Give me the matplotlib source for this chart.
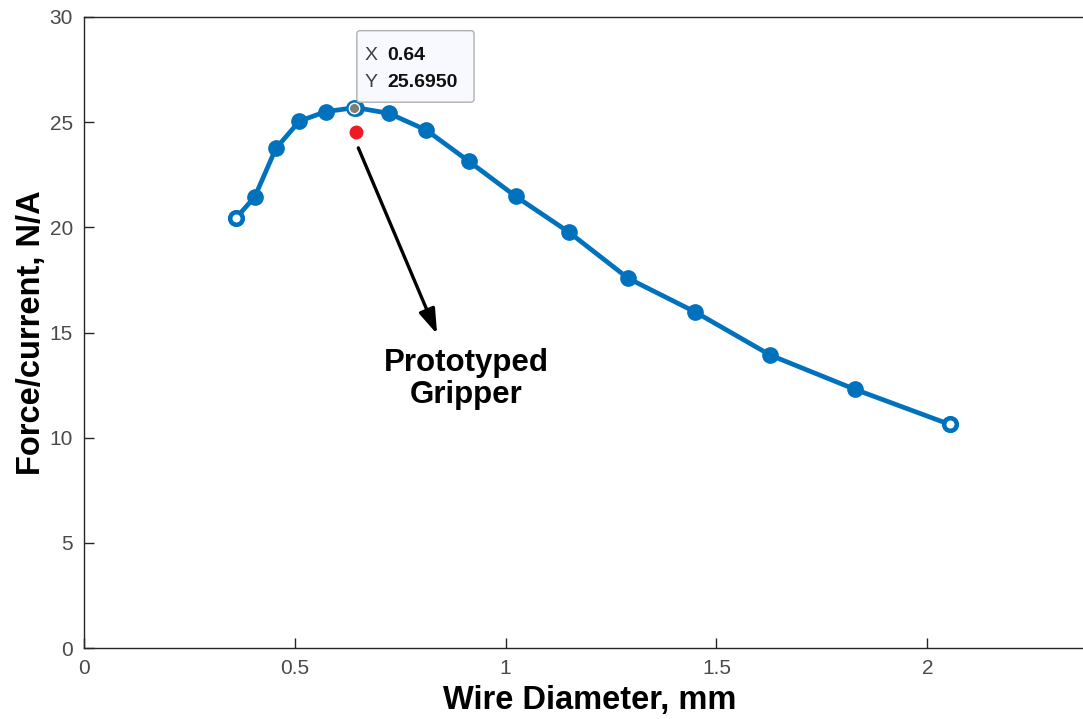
import numpy as np
import matplotlib.pyplot as plt
from matplotlib.patches import FancyBboxPatch

plt.rcParams['font.family'] = ['Liberation Sans', 'DejaVu Sans']

# wire diameters (AWG 27 .. 12) and force per unit current
diameter = [0.361, 0.405, 0.455, 0.511, 0.573, 0.644, 0.723, 0.812,
            0.912, 1.024, 1.150, 1.291, 1.450, 1.628, 1.828, 2.053]
force = [20.45, 21.45, 23.75, 25.05, 25.5, 25.695, 25.42, 24.62,
         23.15, 21.47, 19.77, 17.57, 15.97, 13.92, 12.3, 10.63]

# prototyped gripper point
proto_x = 0.644
proto_y = 24.55

# selected data point shown in the tip
tip_x = 0.64
tip_y = 25.6950

blue = '#0072BD'

fig = plt.figure(figsize=(10.83, 7.19), dpi=100)
ax = fig.add_axes([84 / 1083, 71 / 719, 1012 / 1083, 631 / 719])

ax.plot(diameter, force, color=blue, lw=3.4, marker='o', ms=11,
        mfc=blue, mec=blue, zorder=3)
# open markers at both ends
ax.plot([diameter[0], diameter[-1]], [force[0], force[-1]], ls='none',
        marker='o', ms=9, mfc='white', mec=blue, mew=3.2, zorder=4)
# highlighted point
ax.plot([tip_x], [tip_y], ls='none', marker='o', ms=10, mfc='#7f7f70',
        mec=blue, mew=2.0, zorder=5)
ax.plot([tip_x], [tip_y], ls='none', marker='o', ms=7.5, mfc='none',
        mec='white', mew=1.0, zorder=6)

ax.plot([proto_x], [proto_y], ls='none', marker='o', ms=9,
        color='#ED1C24', zorder=4)

ax.annotate('', xy=(0.840, 14.8), xytext=(0.648, 23.9),
            arrowprops=dict(arrowstyle='-|>,head_length=1.5,head_width=0.5',
                            color='black', lw=2.4))
ax.text(0.906, 12.8, 'Prototyped\nGripper', ha='center', va='center',
        fontsize=22.5, fontweight='bold', linespacing=1.1)

# data tip box
box = FancyBboxPatch((0.647, 25.95), 0.278, 3.4,
                     boxstyle='round,pad=0,rounding_size=0.008',
                     fc='#f8f8ff', ec='#b0b0b0', lw=1.0, zorder=7,
                     mutation_aspect=20)
ax.add_patch(box)
ax.text(0.665, 28.15, 'X', fontsize=14, color='#404040', va='center', zorder=8)
ax.text(0.719, 28.15, '0.64', fontsize=14, fontweight='bold', color='#111111',
        va='center', zorder=8)
ax.text(0.665, 26.87, 'Y', fontsize=14, color='#404040', va='center', zorder=8)
ax.text(0.719, 26.87, f'{tip_y:.4f}', fontsize=14, fontweight='bold',
        color='#111111', va='center', zorder=8)

ax.set_xlim(0, 2.4)
ax.set_ylim(0, 30)
ax.set_xticks([0, 0.5, 1, 1.5, 2])
ax.set_xticklabels(['0', '0.5', '1', '1.5', '2'])
ax.set_yticks([0, 5, 10, 15, 20, 25, 30])

ax.tick_params(direction='in', length=7, width=1, colors='#262626',
               labelsize=15, labelcolor='#4a4a4a', pad=8)
for s in ax.spines.values():
    s.set_color('#262626')
    s.set_linewidth(1.0)

ax.set_xlabel('Wire Diameter, mm', fontsize=23.5, fontweight='bold', labelpad=5)
ax.set_ylabel('Force/current, N/A', fontsize=23.5, fontweight='bold', labelpad=2)

fig.savefig('out.png', dpi=100)
